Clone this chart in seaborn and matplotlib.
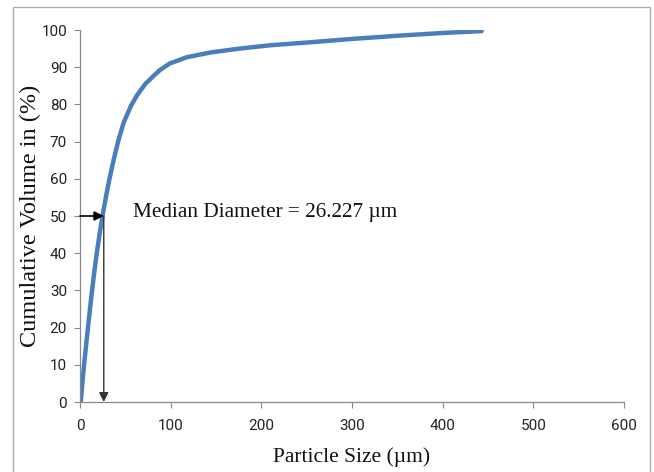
import matplotlib
matplotlib.use("Agg")
import matplotlib.pyplot as plt
import seaborn as sns
import pandas as pd
from matplotlib.patches import Rectangle

# Data
particle_size = [0.8, 2.6, 4.5, 6.6, 8.8, 11.0, 13.3, 15.8, 18.5, 21.5, 24.8, 28.5,
                 32.5, 37.0, 42.0, 48.0, 56.0, 63.0, 72.0, 80.0, 88.0, 99.0,
                 118.0, 145.0, 176.0, 210.0, 254.0, 300.0, 353.0, 400.0, 443.0]
cumulative_volume = [0.0, 5.0, 10.0, 15.0, 20.0, 25.0, 30.0, 35.0, 40.0, 45.0, 50.0, 55.0,
                     60.0, 65.0, 70.0, 75.0, 79.5, 82.5, 85.5, 87.4, 89.2, 91.0,
                     92.7, 94.0, 95.0, 95.9, 96.7, 97.6, 98.5, 99.2, 99.7]
median_diameter = 26.227
x_ticks = [0, 100, 200, 300, 400, 500, 600]
y_ticks = [0, 10, 20, 30, 40, 50, 60, 70, 80, 90, 100]
annotation_text = "Median Diameter = 26.227 \u00b5m"
x_label = "Particle Size (\u00b5m)"
y_label = "Cumulative Volume in (%)"

df = pd.DataFrame({"size": particle_size, "vol": cumulative_volume})

sns.set_style("white")
plt.rcParams["font.family"] = ["Roboto", "DejaVu Sans"]

fig = plt.figure(figsize=(6.54, 4.72), dpi=100)
ax = fig.add_axes([80 / 654, 70 / 472, 544 / 654, 372 / 472])

sns.lineplot(data=df, x="size", y="vol", ax=ax, color="#4a7ebb", linewidth=3.2,
             sort=False, solid_capstyle="round", solid_joinstyle="round")

ax.set_xlim(0, 600)
ax.set_ylim(0, 100)
ax.set_xticks(x_ticks)
ax.set_yticks(y_ticks)
ax.tick_params(axis="both", which="major", direction="out", length=4.3, width=0.8,
               color="#888888", labelsize=11, labelcolor="#222222",
               bottom=True, left=True)
ax.tick_params(axis="x", pad=8)
ax.tick_params(axis="y", pad=5)

for side in ["top", "right"]:
    ax.spines[side].set_visible(False)
for side in ["left", "bottom"]:
    ax.spines[side].set_color("#888888")
    ax.spines[side].set_linewidth(0.9)

serif = ["Liberation Serif", "DejaVu Serif"]
ax.set_xlabel(x_label, fontsize=15.5, family=serif, color="#111111")
ax.set_ylabel(y_label, fontsize=17.5, family=serif, color="#111111")
ax.xaxis.set_label_coords(0.5, -0.122)
ax.yaxis.set_label_coords(-0.072, 0.5)

# Arrows marking the median
ax.annotate("", xy=(median_diameter, 50), xytext=(0, 50),
            arrowprops=dict(arrowstyle="-|>", color="black", lw=1.2,
                            mutation_scale=14, shrinkA=0, shrinkB=0))
ax.annotate("", xy=(median_diameter, 0), xytext=(median_diameter, 50),
            arrowprops=dict(arrowstyle="-|>", color="#333333", lw=1.0,
                            mutation_scale=14, shrinkA=0, shrinkB=0))

ax.text(58, 51, annotation_text, fontsize=15.3, family=serif, color="#111111",
        va="center", ha="left")

# Outer frame (bottom edge lies outside the image)
fig.patches.append(Rectangle((13 / 654, -5 / 472), 637 / 654, 470 / 472,
                             transform=fig.transFigure, fill=False,
                             edgecolor="#aaaaaa", linewidth=1.0))

fig.savefig("out.png", dpi=100)
